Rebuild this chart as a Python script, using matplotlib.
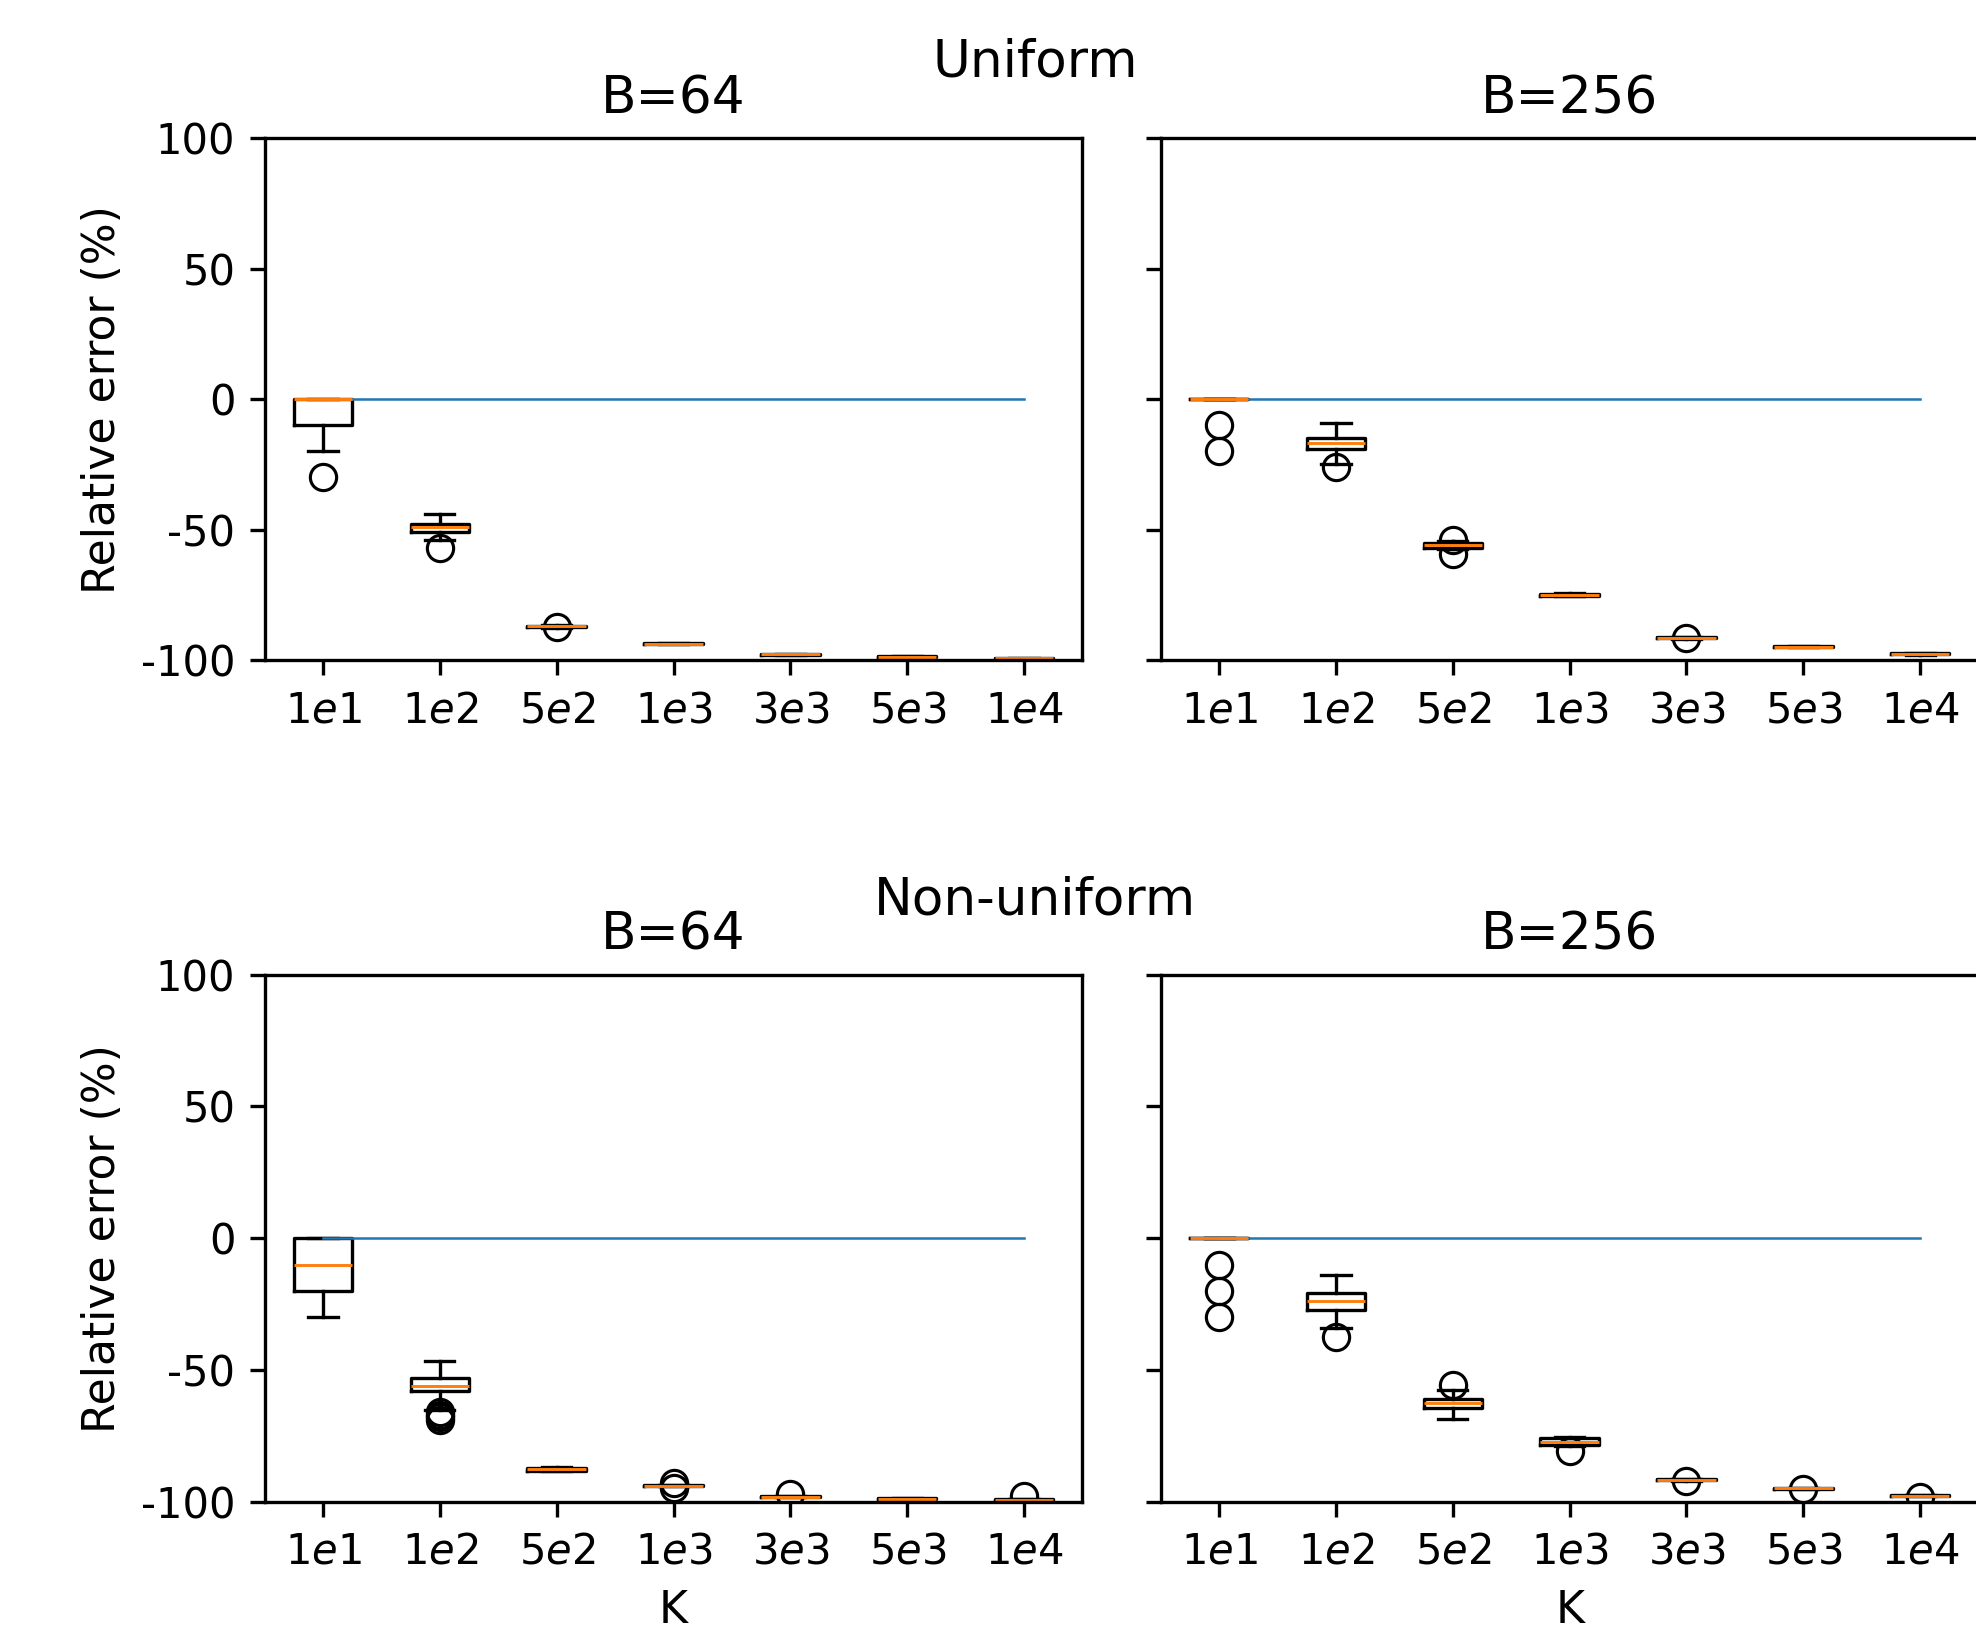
import matplotlib.pyplot as plt

K_labels = [r'$1e1$', r'$1e2$', r'$5e2$', r'$1e3$', r'$3e3$', r'$5e3$', r'$1e4$']
yticks = [-100, -50, 0, 50, 100]
ytick_labels = ['-100', '-50', '0', '50', '100']

# Uniform, B=64
u64_med = [0, -48.9, -87.0, -93.7, -97.8, -98.7, -99.3]
u64_q1 = [-10, -50.8, -87.3, -93.9, -98.0, -98.9, -99.5]
u64_q3 = [0, -47.7, -86.8, -93.5, -97.6, -98.5, -99.1]
u64_lo = [-20, -53.9, -87.5, -94.0, -98.1, -99.0, -99.6]
u64_hi = [0, -44.0, -86.6, -93.4, -97.5, -98.4, -99.0]
u64_fl = [[-30], [-57.0], [-87.2], [], [], [], []]

# Uniform, B=256
u256_med = [0, -16.9, -56.0, -75.0, -91.5, -94.8, -97.6]
u256_q1 = [0, -19.1, -57.0, -75.4, -91.7, -95.0, -97.8]
u256_q3 = [0, -15.0, -55.0, -74.6, -91.3, -94.6, -97.4]
u256_lo = [0, -24.9, -57.5, -75.6, -91.8, -95.1, -97.9]
u256_hi = [0, -9.0, -54.5, -74.4, -91.2, -94.5, -97.3]
u256_fl = [[-10, -20], [-26.1], [-59.5, -54.0], [], [-91.5], [], []]

# Non-uniform, B=64
n64_med = [-10, -56.2, -87.7, -93.9, -98.1, -99.0, -99.4]
n64_q1 = [-20, -58.2, -88.3, -94.1, -98.3, -99.2, -99.6]
n64_q3 = [0, -53.2, -87.2, -93.7, -97.9, -98.8, -99.2]
n64_lo = [-30, -65.1, -88.5, -94.2, -98.4, -99.3, -99.7]
n64_hi = [0, -46.8, -87.0, -93.6, -97.8, -98.7, -99.1]
n64_fl = [[], [-66, -67, -68, -69], [], [-93.0, -95.0], [-97.1], [], [-98.0]]

# Non-uniform, B=256
n256_med = [0, -24.0, -62.6, -77.4, -91.7, -95.0, -97.7]
n256_q1 = [0, -27.4, -64.5, -78.5, -91.9, -95.2, -97.9]
n256_q3 = [0, -20.9, -61.0, -75.9, -91.5, -94.8, -97.5]
n256_lo = [0, -34.2, -68.7, -78.8, -92.0, -95.3, -98.0]
n256_hi = [0, -14.0, -57.8, -75.3, -91.4, -94.7, -97.4]
n256_fl = [[-10, -20, -30], [-37.6], [-55.9], [-80.8], [-92.0], [-95.4], [-98.2]]

panels = [
    ('B=64', u64_med, u64_q1, u64_q3, u64_lo, u64_hi, u64_fl),
    ('B=256', u256_med, u256_q1, u256_q3, u256_lo, u256_hi, u256_fl),
    ('B=64', n64_med, n64_q1, n64_q3, n64_lo, n64_hi, n64_fl),
    ('B=256', n256_med, n256_q1, n256_q3, n256_lo, n256_hi, n256_fl),
]

fig = plt.figure(figsize=(1976 / 300, 1632 / 300), dpi=300)
rects = [
    [0.1339, 0.5955, 0.4139, 0.3199],
    [0.5874, 0.5955, 0.4139, 0.3199],
    [0.1339, 0.0799, 0.4139, 0.3228],
    [0.5874, 0.0799, 0.4139, 0.3228],
]

lw = 0.8
for i, (title, med, q1, q3, lo, hi, fl) in enumerate(panels):
    ax = fig.add_axes(rects[i])
    stats = [dict(med=med[j], q1=q1[j], q3=q3[j], whislo=lo[j], whishi=hi[j],
                  fliers=fl[j]) for j in range(len(K_labels))]
    ax.bxp(stats, positions=range(1, len(K_labels) + 1),
           boxprops=dict(linewidth=lw), whiskerprops=dict(linewidth=lw),
           capprops=dict(linewidth=lw), medianprops=dict(linewidth=0.7),
           flierprops=dict(markeredgewidth=0.75, markersize=6.3))
    ax.plot(range(1, len(K_labels) + 1), [0] * len(K_labels), linewidth=0.6)
    ax.set_xlim(0.5, len(K_labels) + 0.5)
    ax.set_ylim(-100, 100)
    ax.set_xticks(range(1, len(K_labels) + 1))
    ax.set_xticklabels(K_labels, fontsize=10)
    ax.set_yticks(yticks)
    ax.set_title(title, fontsize=12.4)
    if i % 2 == 0:
        ax.set_yticklabels(ytick_labels, fontsize=10)
        ax.set_ylabel('Relative error (%)', fontsize=10.6)
    else:
        ax.set_yticklabels([])
    if i >= 2:
        ax.set_xlabel('K', fontsize=10.6)

fig.text(0.5237, 0.9614, 'Uniform', ha='center', va='center', fontsize=12.4)
fig.text(0.5237, 0.448, 'Non-uniform', ha='center', va='center', fontsize=12.4)

plt.savefig('out.png', dpi=300)
